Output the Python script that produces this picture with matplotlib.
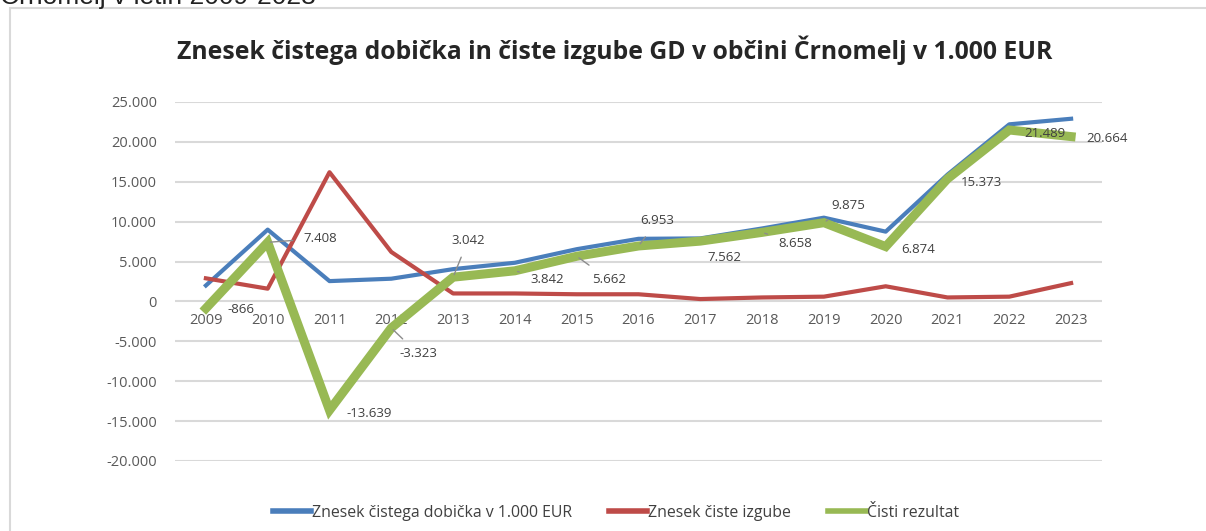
import matplotlib.pyplot as plt
from matplotlib.lines import Line2D
from matplotlib.patches import Rectangle
from matplotlib.ticker import FuncFormatter, MultipleLocator

plt.rcParams['font.family'] = ['Open Sans', 'DejaVu Sans']

# podatki (v 1.000 EUR)
leta = ['2009', '2010', '2011', '2012', '2013', '2014', '2015', '2016',
        '2017', '2018', '2019', '2020', '2021', '2022', '2023']
dobicek = [2000, 9000, 2550, 2850, 4050, 4850, 6550, 7850,
           7900, 9150, 10500, 8750, 15900, 22200, 22900]
izguba = [2900, 1600, 16200, 6200, 1000, 1000, 900, 900,
          300, 500, 600, 1900, 500, 600, 2300]
rezultat = [-866, 7408, -13639, -3323, 3042, 3842, 5662, 6953,
            7562, 8658, 9875, 6874, 15373, 21489, 20664]

# odmiki oznak (v pikslih) in ali ima oznaka povezovalno crto
odmiki = [(35, -1), (53, 4), (40, -3), (27, -26), (15, 37), (32, -9), (32, -23),
          (19, 25), (24, -16), (33, -11), (24, 17), (32, -3), (34, -4), (36, -3), (36, -2)]
crte = [False, True, False, True, True, True, True,
        True, False, True, True, False, False, False, False]

barve = ['#4a7ebb', '#be4b48', '#98b954']
imena = ['Znesek čistega dobička v 1.000 EUR', 'Znesek čiste izgube', 'Čisti rezultat']


def fmt(v, pos=None):
    return f'{int(v):,}'.replace(',', '.')


W, H = 1206, 531
fig = plt.figure(figsize=(W / 100, H / 100), dpi=100)
ax = fig.add_axes([175 / W, 1 - 461 / H, 927 / W, 359 / H])

# okvir grafikona
fig.patches.append(Rectangle((10 / W, -0.1), 1.2, 1 - 8 / H + 0.1, transform=fig.transFigure,
                             fill=False, edgecolor='#d9d9d9', linewidth=1.5))
fig.text(0, 1 - 4 / H, 'Črnomelj v letih 2009-2023', fontsize=19, color='#222222',
         family=['Liberation Sans', 'DejaVu Sans'], va='baseline', ha='left')

x = list(range(len(leta)))
ax.plot(x, dobicek, color=barve[0], lw=3, zorder=3)
ax.plot(x, izguba, color=barve[1], lw=3, zorder=3)
ax.plot(x, rezultat, color=barve[2], lw=6.5, zorder=4, solid_joinstyle='miter')

for i, v in enumerate(rezultat):
    dx, dy = odmiki[i]
    ap = None
    if crte[i]:
        ap = dict(arrowstyle='-', color='#8c8c8c', lw=1, shrinkA=6, shrinkB=2)
    ax.annotate(fmt(v), (i, v), xytext=(dx, dy), textcoords='offset pixels',
                ha='center', va='center', fontsize=9.5, color='#404040',
                arrowprops=ap, zorder=5)

ax.set_xlim(-0.5, len(leta) - 0.5)
ax.set_ylim(-20000, 25000)
ax.yaxis.set_major_locator(MultipleLocator(5000))
ax.yaxis.set_major_formatter(FuncFormatter(fmt))
ax.grid(axis='y', color='#d9d9d9', lw=1.5)
ax.set_axisbelow(True)
ax.set_xticks([])
ax.tick_params(axis='y', length=0, pad=13, labelsize=10.5, labelcolor='#595959')
for s in ax.spines.values():
    s.set_visible(False)

for i, l in enumerate(leta):
    ax.annotate(l, (i, 0), xytext=(0, -19), textcoords='offset pixels',
                ha='center', va='center', fontsize=10.5, color='#595959')

fig.text(615 / W, 1 - 50 / H, 'Znesek čistega dobička in čiste izgube GD v občini Črnomelj v 1.000 EUR',
         ha='center', va='center', fontsize=17.8, fontweight='bold', color='#262626')

rocaji = [Line2D([], [], color=c, lw=4) for c in barve]
fig.legend(rocaji, imena, loc='center', bbox_to_anchor=(616 / W, 1 - 513 / H), ncol=3,
           frameon=False, fontsize=11.4, handlelength=2.4, handletextpad=0.1,
           columnspacing=2.3, labelcolor='#404040')

fig.savefig('out.png', dpi=100, facecolor='white')
